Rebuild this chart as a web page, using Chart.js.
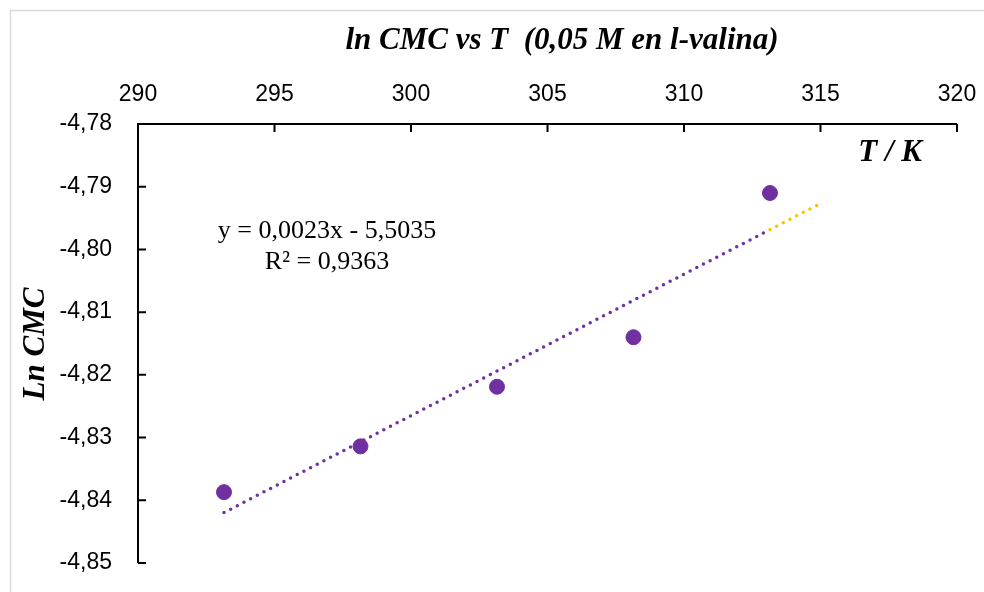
<!DOCTYPE html>
<html lang="es">
<head>
<meta charset="UTF-8">
<title>ln CMC vs T</title>
<script src="https://cdn.jsdelivr.net/npm/chart.js@4.4.1/dist/chart.umd.min.js"></script>
<style>
  html, body { margin: 0; padding: 0; background: #fff; }
  #wrap { position: relative; width: 984px; height: 592px; }
</style>
</head>
<body>
<div id="wrap"><canvas id="cmcChart" width="984" height="592"></canvas></div>
<script>
// data
var temps = [293.15, 298.15, 303.15, 308.15, 313.15];   // T / K
var lnCmc = [-4.8387, -4.8314, -4.8219, -4.814, -4.791];
var trendEndX = 315;  // trendline is extended forward to 315 K
var xTicks = [290, 295, 300, 305, 310, 315, 320];
var yTicks = [-4.78, -4.79, -4.80, -4.81, -4.82, -4.83, -4.84, -4.85];
var eqText = ['y = 0,0023x - 5,5035', 'R\u00b2 = 0,9363'];

var purple = '#7030A0';
var orange = '#FFC000';

// least squares line, like the spreadsheet trendline
function fitLine(xs, ys) {
  var n = xs.length, mx = 0, my = 0, sxy = 0, sxx = 0;
  for (var i = 0; i < n; i++) { mx += xs[i]; my += ys[i]; }
  mx /= n; my /= n;
  for (var j = 0; j < n; j++) {
    sxy += (xs[j] - mx) * (ys[j] - my);
    sxx += (xs[j] - mx) * (xs[j] - mx);
  }
  var m = sxy / sxx;
  return { m: m, b: my - m * mx };
}
var fit = fitLine(temps, lnCmc);
var xLast = temps[temps.length - 1];
var trendMain = [
  { x: temps[0], y: fit.m * temps[0] + fit.b },
  { x: xLast, y: fit.m * xLast + fit.b }
];
var trendForward = [
  { x: xLast, y: fit.m * xLast + fit.b },
  { x: trendEndX, y: fit.m * trendEndX + fit.b }
];
var points = temps.map(function (t, i) { return { x: t, y: lnCmc[i] }; });

function comma(v, dec) { return v.toFixed(dec).replace('.', ','); }

// titles, axis lines, inward ticks and the equation label
var decorations = {
  id: 'decorations',
  afterDraw: function (chart) {
    var ctx = chart.ctx, a = chart.chartArea;
    var xs = chart.scales.x, ys = chart.scales.y;
    ctx.save();
    // outer frame
    ctx.strokeStyle = '#d9d9d9';
    ctx.lineWidth = 1.5;
    ctx.beginPath();
    ctx.moveTo(10.5, 592); ctx.lineTo(10.5, 10.5); ctx.lineTo(984, 10.5);
    ctx.stroke();

    // axis lines + ticks
    ctx.strokeStyle = '#000';
    ctx.lineWidth = 2;
    ctx.beginPath();
    ctx.moveTo(a.left, a.bottom); ctx.lineTo(a.left, a.top); ctx.lineTo(a.right, a.top);
    xTicks.forEach(function (t) {
      var px = xs.getPixelForValue(t);
      ctx.moveTo(px, a.top); ctx.lineTo(px, a.top + 8);
    });
    yTicks.forEach(function (t) {
      var py = ys.getPixelForValue(t);
      ctx.moveTo(a.left, py); ctx.lineTo(a.left + 8, py);
    });
    ctx.stroke();

    // chart title
    ctx.fillStyle = '#000';
    ctx.font = 'italic bold 31px "Liberation Serif", "Times New Roman", serif';
    ctx.textAlign = 'center';
    ctx.textBaseline = 'middle';
    ctx.fillText('ln CMC vs T  (0,05 M en l-valina)', 562, 41);

    // axis titles
    ctx.font = 'italic bold 31px "Liberation Serif", "Times New Roman", serif';
    ctx.textAlign = 'right';
    ctx.fillText('T / K', 922, 153);
    ctx.save();
    ctx.translate(36, 344);
    ctx.rotate(-Math.PI / 2);
    ctx.textAlign = 'center';
    ctx.fillText('Ln CMC', 0, 0);
    ctx.restore();

    // trendline equation
    ctx.font = '26px "Liberation Serif", "Times New Roman", serif';
    ctx.textAlign = 'center';
    ctx.fillText(eqText[0], 327, 231);
    ctx.fillText(eqText[1], 327, 262);
    ctx.restore();
  }
};

var tickFont = { family: '"Liberation Sans", Arial, sans-serif', size: 23 };

// invisible tick marks give the label gap; ticks.padding would shrink the plot area
new Chart(document.getElementById('cmcChart'), {
  type: 'scatter',
  data: {
    datasets: [
      {
        label: 'tendencia',
        data: trendMain,
        showLine: true,
        borderColor: purple,
        borderWidth: 3.5,
        borderDash: [0, 7.5],
        borderCapStyle: 'round',
        pointRadius: 0,
        order: 2
      },
      {
        label: 'pronóstico',
        data: trendForward,
        showLine: true,
        borderColor: orange,
        borderWidth: 3.5,
        borderDash: [0, 7.5],
        borderCapStyle: 'round',
        pointRadius: 0,
        order: 2
      },
      {
        label: 'ln CMC',
        data: points,
        backgroundColor: purple,
        borderColor: purple,
        pointRadius: 7.5,
        order: 1
      }
    ]
  },
  options: {
    responsive: false,
    animation: false,
    layout: { autoPadding: false, padding: { left: 0, top: 0, right: 27, bottom: 29 } },
    plugins: { legend: { display: false }, tooltip: { enabled: false } },
    scales: {
      x: {
        type: 'linear',
        position: 'top',
        min: 290, max: 320,
        afterBuildTicks: function (s) { s.ticks = xTicks.map(function (v) { return { value: v }; }); },
        afterFit: function (s) { s.height = 124; },
        grid: { display: true, drawOnChartArea: false, drawTicks: true, tickLength: 16, color: 'rgba(0,0,0,0)' },
        border: { display: false },
        ticks: {
          color: '#000',
          font: tickFont,
          padding: 0,
          maxRotation: 0,
          callback: function (v) { return String(v); }
        }
      },
      y: {
        type: 'linear',
        min: -4.85, max: -4.78,
        afterBuildTicks: function (s) { s.ticks = yTicks.map(function (v) { return { value: v }; }); },
        afterFit: function (s) { s.width = 138; },
        grid: { display: true, drawOnChartArea: false, drawTicks: true, tickLength: 26, color: 'rgba(0,0,0,0)' },
        border: { display: false },
        ticks: {
          color: '#000',
          font: tickFont,
          padding: 0,
          callback: function (v) { return comma(v, 2); }
        }
      }
    }
  },
  plugins: [decorations]
});
</script>
</body>
</html>
